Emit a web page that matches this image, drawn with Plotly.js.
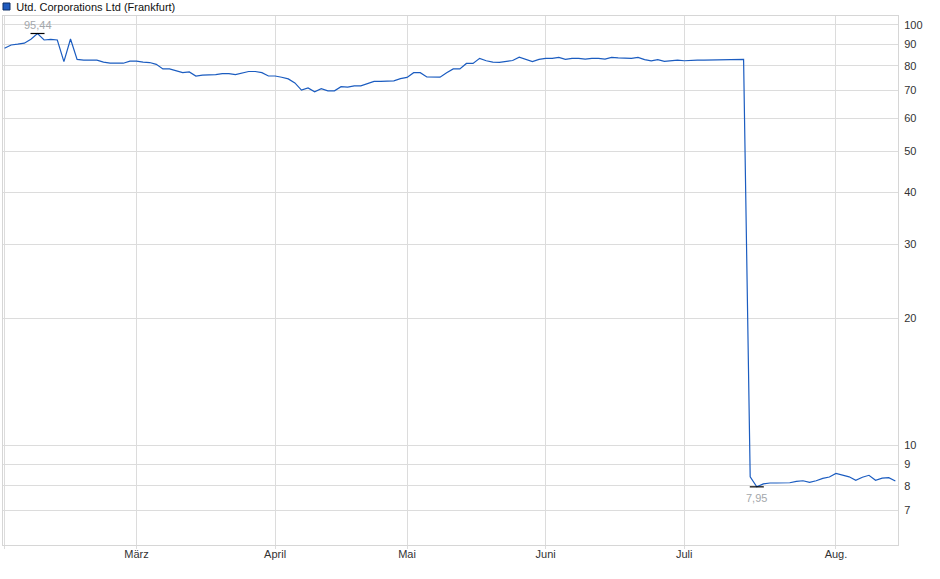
<!DOCTYPE html>
<html>
<head>
<meta charset="utf-8">
<script src="https://cdn.plot.ly/plotly-3.0.1.min.js"></script>
<style>
html,body{margin:0;padding:0;background:#fff;}
#chart{width:940px;height:579px;}
</style>
</head>
<body>
<div id="chart"></div>
<script>
// Trading days (Frankfurt, 2025)
const dates = [
 '2025-02-03','2025-02-04','2025-02-05','2025-02-06','2025-02-07',
 '2025-02-10','2025-02-11','2025-02-12','2025-02-13','2025-02-14',
 '2025-02-17','2025-02-18','2025-02-19','2025-02-20','2025-02-21',
 '2025-02-24','2025-02-25','2025-02-26','2025-02-27','2025-02-28',
 '2025-03-03','2025-03-04','2025-03-05','2025-03-06','2025-03-07',
 '2025-03-10','2025-03-11','2025-03-12','2025-03-13','2025-03-14',
 '2025-03-17','2025-03-18','2025-03-19','2025-03-20','2025-03-21',
 '2025-03-24','2025-03-25','2025-03-26','2025-03-27','2025-03-28',
 '2025-03-31',
 '2025-04-01','2025-04-02','2025-04-03','2025-04-04',
 '2025-04-07','2025-04-08','2025-04-09','2025-04-10','2025-04-11',
 '2025-04-14','2025-04-15','2025-04-16','2025-04-17',
 '2025-04-22','2025-04-23','2025-04-24','2025-04-25',
 '2025-04-28','2025-04-29','2025-04-30',
 '2025-05-02',
 '2025-05-05','2025-05-06','2025-05-07','2025-05-08','2025-05-09',
 '2025-05-12','2025-05-13','2025-05-14','2025-05-15','2025-05-16',
 '2025-05-19','2025-05-20','2025-05-21','2025-05-22','2025-05-23',
 '2025-05-26','2025-05-27','2025-05-28','2025-05-29','2025-05-30',
 '2025-06-02','2025-06-03','2025-06-04','2025-06-05','2025-06-06',
 '2025-06-09','2025-06-10','2025-06-11','2025-06-12','2025-06-13',
 '2025-06-16','2025-06-17','2025-06-18','2025-06-19','2025-06-20',
 '2025-06-23','2025-06-24','2025-06-25','2025-06-26','2025-06-27',
 '2025-06-30',
 '2025-07-01','2025-07-02','2025-07-03','2025-07-04',
 '2025-07-07','2025-07-08','2025-07-09','2025-07-10','2025-07-11',
 '2025-07-14','2025-07-15','2025-07-16','2025-07-17','2025-07-18',
 '2025-07-21','2025-07-22','2025-07-23','2025-07-24','2025-07-25',
 '2025-07-28','2025-07-29','2025-07-30','2025-07-31',
 '2025-08-01',
 '2025-08-04','2025-08-05','2025-08-06','2025-08-07','2025-08-08',
 '2025-08-11','2025-08-12','2025-08-13','2025-08-14'
];

// Closing prices (EUR)
const prices = [
 88.0, 89.6, 90.0, 90.5, 92.5,
 95.44, 92.1, 92.4, 92.1, 81.8,
 92.6, 82.8, 82.5, 82.5, 82.5,
 81.6, 81.1, 81.1, 81.1, 82.0,
 82.0, 81.6, 81.4, 80.6, 78.6,
 78.6, 77.7, 77.0, 77.3, 75.6,
 76.0, 76.0, 76.2, 76.6, 76.6,
 76.2, 77.0, 77.5, 77.5, 77.0,
 75.6,
 75.6, 75.1, 74.4, 72.8,
 70.0, 70.8, 69.3, 70.5, 69.7,
 69.7, 71.3, 71.1, 71.6,
 71.6, 72.6, 73.4, 73.4,
 73.6, 73.6, 74.5,
 75.0,
 77.0, 77.0, 75.2, 75.1, 75.1,
 77.0, 78.6, 78.6, 81.0, 81.0,
 83.3, 82.2, 81.6, 81.5, 81.8,
 82.3, 83.8, 82.9, 81.8, 82.8,
 83.3, 83.3, 83.7, 82.8, 83.3,
 83.3, 82.9, 83.3, 83.3, 82.9,
 83.7, 83.5, 83.3, 83.3, 83.7,
 82.7, 82.1, 82.7, 81.9, 82.3,
 82.5,
 82.2, 82.5, 82.5, 82.5,
 82.5, 82.5, 82.5, 82.5, 82.8,
 82.8, 8.40, 7.95, 8.08, 8.12,
 8.12, 8.13, 8.13, 8.19, 8.22,
 8.15, 8.22, 8.33, 8.39,
 8.56,
 8.48, 8.40, 8.24, 8.38, 8.47,
 8.24, 8.34, 8.36, 8.21
];

const monthTickDates = ['2025-02-03','2025-03-03','2025-04-01','2025-05-02','2025-06-02','2025-07-01','2025-08-01'];
const monthTickLabels = ['','März','April','Mai','Juni','Juli','Aug.'];
const yTickVals = [7,8,9,10,20,30,40,50,60,70,80,90,100];
const yTickLabels = ['7','8','9','10','20','30','40','50','60','70','80','90','100'];
const seriesName = 'Utd. Corporations Ltd (Frankfurt)';

const maxVal = Math.max(...prices);
const minVal = Math.min(...prices);
const maxIdx = prices.indexOf(maxVal);
const minIdx = prices.indexOf(minVal);
const fmt = v => v.toFixed(2).replace('.', ',');

const FONT = 'Liberation Sans, Arial, sans-serif';

const traces = [
  {
    type: 'scatter', mode: 'lines',
    x: dates, y: prices,
    line: {color: '#1b5cc0', width: 1.2},
    hoverinfo: 'skip', showlegend: false
  },
  {
    type: 'scatter', mode: 'markers',
    x: [dates[maxIdx], dates[minIdx]], y: [maxVal, minVal],
    marker: {symbol: 'line-ew', size: 10, line: {color: '#000', width: 1.2}},
    hoverinfo: 'skip', showlegend: false, cliponaxis: false
  }
];

const labelFont = {family: FONT, size: 11, color: '#a3a7ab'};

const layout = {
  width: 940, height: 579,
  margin: {l: 3, r: 42, t: 16, b: 34, pad: 0},
  paper_bgcolor: '#fff', plot_bgcolor: '#fff',
  font: {family: FONT, size: 11, color: '#333'},
  title: {
    text: seriesName,
    font: {family: FONT, size: 11, color: '#111'},
    x: 14/940, xanchor: 'left', xref: 'paper',
    y: 1 - 7/579, yanchor: 'middle', yref: 'container'
  },
  xaxis: {
    type: 'category',
    range: [-0.23, 135.4],
    tickmode: 'array', tickvals: monthTickDates, ticktext: monthTickLabels,
    showgrid: true, gridcolor: '#dcdcdc', gridwidth: 1,
    ticks: 'outside', ticklen: 3, tickcolor: '#dcdcdc',
    ticklabelstandoff: -4,
    showline: true, linecolor: '#d6d6d6', linewidth: 1, mirror: true,
    tickfont: {family: FONT, size: 11, color: '#333'},
    zeroline: false, fixedrange: true
  },
  yaxis: {
    type: 'log', side: 'right',
    range: [0.7619, 2.0214],
    tickmode: 'array', tickvals: yTickVals, ticktext: yTickLabels,
    showgrid: true, gridcolor: '#dcdcdc', gridwidth: 1,
    ticks: 'outside', ticklen: 3, tickcolor: 'rgba(0,0,0,0)',
    showline: true, linecolor: '#d6d6d6', linewidth: 1, mirror: true,
    tickfont: {family: FONT, size: 11, color: '#333'},
    zeroline: false, fixedrange: true
  },
  annotations: [
    {x: dates[maxIdx], y: Math.log10(maxVal), xref: 'x', yref: 'y',
     text: fmt(maxVal), showarrow: false, yshift: 9, font: labelFont},
    {x: dates[minIdx], y: Math.log10(minVal), xref: 'x', yref: 'y',
     text: fmt(minVal), showarrow: false, yshift: -11, font: labelFont}
  ],
  shapes: [
    {type: 'rect', xref: 'paper', yref: 'paper',
     x0: 0, x1: 7/895, y0: (545-10)/529, y1: (545-3)/529,
     fillcolor: '#1f5bbf', line: {color: '#0d2f66', width: 1}}
  ],
  showlegend: false
};

Plotly.newPlot('chart', traces, layout, {staticPlot: true, displayModeBar: false});
</script>
</body>
</html>
